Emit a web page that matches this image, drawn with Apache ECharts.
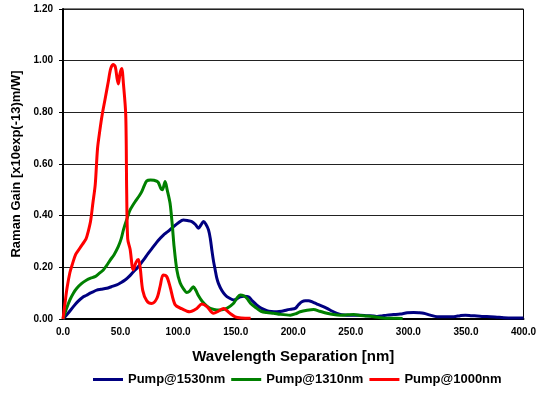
<!DOCTYPE html>
<html><head><meta charset="utf-8">
<script src="https://cdn.jsdelivr.net/npm/echarts@6/dist/echarts.min.js"></script>
<style>html,body{margin:0;padding:0;background:#fff}#c{width:539px;height:405px}</style>
</head><body><div id="c"></div>
<script>
const seriesNames = ['Pump@1530nm', 'Pump@1310nm', 'Pump@1000nm'];
const xTicks = [0, 50, 100, 150, 200, 250, 300, 350, 400];
const yTicks = [0, 0.2, 0.4, 0.6, 0.8, 1.0, 1.2];

const pump1530 = [[0,0],[4,0.02],[9,0.048],[13,0.068],[17.7,0.086],[20.5,0.092],[23.5,0.1],[26,0.105],[29.3,0.112],[33,0.115],[38,0.119],[42,0.125],[46.7,0.132],[50,0.14],[53.9,0.151],[57.5,0.165],[61.2,0.183],[65,0.2],[69.8,0.228],[74,0.254],[78.5,0.28],[82.5,0.303],[87.2,0.325],[91,0.338],[95.9,0.357],[100,0.372],[104.6,0.383],[108,0.381],[111.9,0.377],[115,0.366],[117.7,0.351],[120,0.365],[122,0.377],[124,0.368],[126.4,0.345],[128,0.31],[129.3,0.267],[130.7,0.225],[132.2,0.19],[133.5,0.16],[135,0.138],[138,0.11],[140.9,0.093],[144,0.082],[148.1,0.074],[151,0.078],[153.9,0.086],[157,0.088],[161.2,0.086],[164.5,0.07],[168.4,0.054],[172,0.042],[177.1,0.032],[181,0.029],[185.8,0.028],[190,0.03],[194.5,0.035],[198,0.038],[201.7,0.041],[204.5,0.055],[207.5,0.067],[210.5,0.071],[213.3,0.071],[217,0.065],[220.6,0.058],[225,0.05],[229.3,0.041],[234,0.03],[238,0.022],[242,0.017],[246.7,0.015],[252,0.015],[258.3,0.015],[264,0.013],[269.8,0.012],[272.8,0.01],[277,0.012],[281.5,0.015],[287,0.017],[293,0.019],[299,0.024],[304.6,0.025],[309,0.024],[313.3,0.022],[319,0.015],[324.9,0.009],[332,0.009],[339.4,0.009],[345,0.013],[349.6,0.015],[355,0.013],[359.7,0.012],[365,0.01],[371.3,0.009],[377,0.007],[382.9,0.005],[390,0.004],[400,0.004]];

const pump1310 = [[0,0],[3,0.04],[6,0.074],[9,0.1],[12,0.119],[16,0.137],[20.6,0.151],[24,0.158],[27.8,0.164],[31,0.175],[35,0.19],[38,0.208],[41,0.228],[44.5,0.25],[48,0.28],[50.5,0.31],[52.5,0.345],[55,0.38],[58.3,0.422],[62.6,0.454],[66,0.475],[68.4,0.493],[70.5,0.515],[72.8,0.535],[76,0.538],[79,0.537],[82.5,0.53],[85,0.505],[86.3,0.5],[88.7,0.532],[90.5,0.5],[93,0.448],[95,0.36],[96.5,0.28],[98.9,0.19],[101.7,0.14],[104.5,0.118],[107.5,0.103],[110,0.108],[113.3,0.125],[115.5,0.11],[117.7,0.09],[121,0.068],[125,0.05],[128,0.041],[133.7,0.035],[138,0.036],[142.3,0.041],[148,0.06],[151,0.08],[153.9,0.093],[157,0.09],[159.7,0.08],[163,0.06],[168.4,0.041],[172,0.03],[177,0.025],[183,0.022],[188.7,0.018],[197.4,0.015],[202,0.02],[206,0.028],[212,0.034],[217.7,0.037],[223,0.03],[229.3,0.022],[235,0.017],[241,0.015],[247,0.016],[252.5,0.017],[258,0.014],[264,0.012],[270,0.009],[278,0.004],[286,0.003],[295,0.002]];

const pump1000 = [[0,0],[2,0.07],[3.5,0.12],[6,0.18],[8,0.21],[11,0.25],[14,0.27],[17,0.29],[20,0.31],[22,0.34],[24,0.38],[26,0.45],[28,0.52],[30,0.66],[32,0.73],[34,0.79],[36.5,0.85],[39.4,0.92],[41.5,0.97],[43.8,0.985],[45.5,0.975],[47,0.93],[48.1,0.91],[49.5,0.95],[51,0.97],[52.5,0.91],[54.5,0.79],[55.3,0.5],[56.2,0.31],[58.3,0.27],[61,0.19],[63.5,0.22],[65.5,0.23],[67,0.2],[69.3,0.11],[72.8,0.07],[77,0.06],[81.5,0.08],[84.3,0.125],[87,0.17],[90,0.165],[93,0.125],[97.4,0.055],[103,0.04],[110,0.028],[116,0.04],[120.6,0.058],[125,0.048],[130.7,0.022],[135,0.03],[139.4,0.041],[145,0.022],[149.6,0.008],[155,0.004],[163,0.003]];

const colors = ['#000080', '#008000', '#ff0000'];
const chart = echarts.init(document.getElementById('c'));
const FONT = 'Liberation Sans, Arial, sans-serif';
function mk(name, data, color) {
  return { name, type: 'line', data, symbol: 'none', smooth: 0.3,
    lineStyle: { color, width: 3 }, itemStyle: { color } };
}
chart.setOption({
  animation: false,
  color: colors,
  grid: { left: 63, right: 15, top: 9, bottom: 86, show: true, borderColor: '#000', borderWidth: 1 },
  xAxis: {
    type: 'value', min: xTicks[0], max: xTicks[xTicks.length - 1], interval: 50,
    name: 'Wavelength Separation [nm]', nameLocation: 'middle', nameGap: 30,
    nameTextStyle: { fontFamily: FONT, fontWeight: 'bold', fontSize: 15, color: '#000' },
    axisLine: { lineStyle: { color: '#000', width: 2 } },
    axisTick: { show: false },
    axisLabel: { fontFamily: FONT, fontWeight: 'bold', fontSize: 10, color: '#000', margin: 8,
      formatter: v => v.toFixed(1) },
    splitLine: { show: false }
  },
  yAxis: {
    type: 'value', min: yTicks[0], max: yTicks[yTicks.length - 1], interval: 0.2,
    name: 'Raman Gain [x10exp(-13)m/W]', nameLocation: 'middle', nameGap: 40,
    nameTextStyle: { fontFamily: FONT, fontWeight: 'bold', fontSize: 13, color: '#000' },
    axisLine: { lineStyle: { color: '#000', width: 2 } },
    axisTick: { show: true, length: 4, lineStyle: { color: '#000' } },
    axisLabel: { fontFamily: FONT, fontWeight: 'bold', fontSize: 10, color: '#000', margin: 10,
      formatter: v => v.toFixed(2) },
    splitLine: { show: true, lineStyle: { color: '#222', width: 1 } }
  },
  legend: {
    bottom: 14, left: 88, itemWidth: 30, itemHeight: 3, itemGap: 6, icon: 'rect',
    textStyle: { fontFamily: FONT, fontWeight: 'bold', fontSize: 13, color: '#000' },
    data: seriesNames
  },
  series: [
    mk(seriesNames[0], pump1530, colors[0]),
    mk(seriesNames[1], pump1310, colors[1]),
    mk(seriesNames[2], pump1000, colors[2])
  ]
});
</script></body></html>
